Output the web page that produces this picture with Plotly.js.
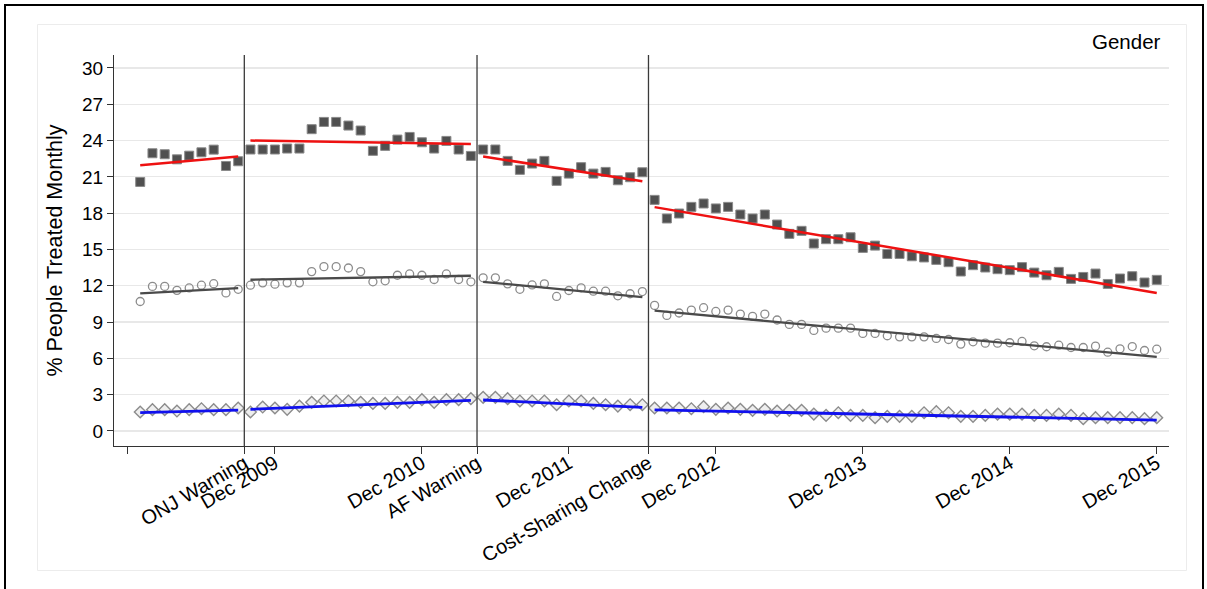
<!DOCTYPE html>
<html>
<head>
<meta charset="utf-8">
<script src="https://cdn.plot.ly/plotly-3.0.1.min.js"></script>
<style>
  html, body { margin: 0; padding: 0; background: #ffffff; overflow: hidden; }
  #wrap { position: relative; width: 1207px; height: 589px; }
  #chart { position: absolute; left: 0; top: 0; width: 1207px; height: 589px; }
  .edge { position: absolute; background: #000; }
</style>
</head>
<body>
<div id="wrap">
  <div id="chart"></div>
  <div class="edge" style="left:4px; top:4px; width:1200px; height:2px;"></div>
  <div class="edge" style="left:4px; top:4px; width:2px; height:590px;"></div>
  <div class="edge" style="left:1202px; top:4px; width:2px; height:590px;"></div>
</div>
<script>
// Monthly series, Jan 2009 (month 1) to Dec 2015 (month 84), split into four periods
const segStart = [1, 10, 29, 43];
const segEnd = [9, 28, 42, 84];

// Policy events (month positions between periods)
const eventPos = [9.5, 28.5, 42.5];
const eventLabels = ['ONJ Warning', 'AF Warning', 'Cost-Sharing Change'];

// Year-end ticks
const yearTickPos = [12, 24, 36, 48, 60, 72, 84];
const yearTickLabels = ['Dec 2009', 'Dec 2010', 'Dec 2011', 'Dec 2012', 'Dec 2013', 'Dec 2014', 'Dec 2015'];

const yTicks = [0, 3, 6, 9, 12, 15, 18, 21, 24, 27, 30];

// % treated monthly — square markers
const groupHigh = [
  20.58, 22.95, 22.87, 22.45, 22.75, 23.03, 23.25, 21.90, 22.29,
  23.26, 23.26, 23.26, 23.34, 23.34, 24.94, 25.54, 25.54, 25.24, 24.83, 23.15, 23.56, 24.08, 24.30, 23.86, 23.34, 23.97, 23.26, 22.73,
  23.26, 23.26, 22.32, 21.58, 22.10, 22.32, 20.67, 21.27, 21.80, 21.27, 21.41, 20.72, 20.97, 21.38,
  19.10, 17.56, 17.97, 18.52, 18.80, 18.39, 18.52, 17.89, 17.56, 17.89, 17.06, 16.29, 16.54, 15.49, 15.85, 15.85, 16.01, 15.13, 15.32, 14.63, 14.63, 14.44,
  14.34, 14.14, 13.95, 13.18, 13.70, 13.51, 13.37, 13.29, 13.54, 13.09, 12.87, 13.15, 12.57, 12.73, 13.01, 12.15, 12.60, 12.79, 12.27, 12.49
];

// % treated monthly — hollow circle markers
const groupMid = [
  10.70, 11.95, 11.95, 11.62, 11.82, 12.05, 12.17, 11.41, 11.71,
  12.05, 12.24, 12.13, 12.24, 12.24, 13.17, 13.58, 13.58, 13.47, 13.17, 12.33, 12.41, 12.87, 12.98, 12.87, 12.52, 12.98, 12.52, 12.33,
  12.66, 12.66, 12.16, 11.71, 12.07, 12.16, 11.12, 11.61, 11.83, 11.55, 11.55, 11.17, 11.34, 11.52,
  10.38, 9.55, 9.75, 9.99, 10.19, 9.88, 9.99, 9.66, 9.47, 9.66, 9.17, 8.81, 8.81, 8.31, 8.50, 8.50, 8.50, 8.06, 8.06, 7.87, 7.78, 7.78,
  7.78, 7.65, 7.56, 7.18, 7.37, 7.26, 7.26, 7.29, 7.40, 7.04, 6.96, 7.09, 6.90, 6.90, 7.01, 6.51, 6.79, 6.98, 6.65, 6.76
];

// % treated monthly — diamond markers
const groupLow = [
  1.57, 1.76, 1.76, 1.65, 1.76, 1.84, 1.76, 1.76, 1.90,
  1.57, 1.98, 1.90, 1.79, 2.06, 2.37, 2.48, 2.48, 2.48, 2.37, 2.28, 2.28, 2.37, 2.37, 2.59, 2.37, 2.59, 2.59, 2.67,
  2.78, 2.78, 2.67, 2.48, 2.48, 2.48, 2.17, 2.48, 2.48, 2.28, 2.17, 2.06, 2.17, 2.17,
  1.90, 1.90, 1.90, 1.84, 2.01, 1.79, 1.90, 1.79, 1.71, 1.79, 1.65, 1.71, 1.71, 1.40, 1.29, 1.51, 1.29, 1.29, 1.10, 1.21, 1.21,
  1.21, 1.51, 1.60, 1.51, 1.21, 1.21, 1.29, 1.40, 1.40, 1.40, 1.29, 1.29, 1.40, 1.29, 1.02, 1.10, 1.10, 1.10, 1.10, 1.02, 1.10
];

// Segmented linear trends: fitted value at the first and last month of each period
const highFitStart = [21.96, 24.00, 22.68, 18.50];
const highFitEnd   = [22.68, 23.72, 20.64, 11.41];
const midFitStart  = [11.37, 12.50, 12.33, 9.94];
const midFitEnd    = [11.81, 12.83, 11.06, 6.13];
const lowFitStart  = [1.51, 1.79, 2.56, 1.75];
const lowFitEnd    = [1.73, 2.53, 1.95, 0.90];

// month index for every observation
const months = [];
for (let s = 0; s < segStart.length; s++) {
  for (let m = segStart[s]; m <= segEnd[s]; m++) months.push(m);
}

function trendLine(starts, ends) {
  const x = [], y = [];
  for (let s = 0; s < segStart.length; s++) {
    x.push(segStart[s], segEnd[s], null);
    y.push(starts[s], ends[s], null);
  }
  return { x, y };
}

const FONT = '"Liberation Sans", Arial, Helvetica, sans-serif';

const hiLine = trendLine(highFitStart, highFitEnd);
const midLine = trendLine(midFitStart, midFitEnd);
const loLine = trendLine(lowFitStart, lowFitEnd);

const traces = [
  {
    x: months, y: groupHigh, type: 'scatter', mode: 'markers',
    marker: { symbol: 'square', size: 9, color: '#505050', line: { color: '#8a8a8a', width: 1 } },
    hoverinfo: 'skip'
  },
  {
    x: months, y: groupMid, type: 'scatter', mode: 'markers',
    marker: { symbol: 'circle-open', size: 8, color: '#8c8c8c', line: { color: '#8c8c8c', width: 1.3 } },
    hoverinfo: 'skip'
  },
  {
    x: months, y: groupLow, type: 'scatter', mode: 'markers',
    marker: { symbol: 'diamond', size: 9, color: '#eeeeee', line: { color: '#8c8c8c', width: 1.4 } },
    hoverinfo: 'skip'
  },
  {
    x: hiLine.x, y: hiLine.y, type: 'scatter', mode: 'lines',
    line: { color: '#ee1111', width: 2.5 }, connectgaps: false, hoverinfo: 'skip'
  },
  {
    x: midLine.x, y: midLine.y, type: 'scatter', mode: 'lines',
    line: { color: '#4a4a4a', width: 2.3 }, connectgaps: false, hoverinfo: 'skip'
  },
  {
    x: loLine.x, y: loLine.y, type: 'scatter', mode: 'lines',
    line: { color: '#1010ee', width: 2.8 }, connectgaps: false, hoverinfo: 'skip'
  }
];

// x ticks: a bare tick at Dec 2008, event labels and year-end labels, in position order
const xTickPairs = [[0, '']]
  .concat(eventPos.map((p, i) => [p, eventLabels[i]]))
  .concat(yearTickPos.map((p, i) => [p, yearTickLabels[i]]))
  .sort((a, b) => a[0] - b[0]);

// plot-area geometry in pixels, used for the frame drawn around the graph region
const W = 1207, H = 589;
const M = { l: 114, r: 38, t: 55, b: 143 };
const pw = W - M.l - M.r, ph = H - M.t - M.b;
const px = v => (v - M.l) / pw;
const py = v => (H - M.b - v) / ph;

const shapes = eventPos.map(p => ({
  type: 'line', xref: 'x', yref: 'paper', x0: p, x1: p, y0: 0, y1: 1,
  line: { color: '#3a3a3a', width: 1.3 }, layer: 'above'
}));
shapes.push({
  type: 'rect', xref: 'paper', yref: 'paper',
  x0: px(37.5), x1: px(1186.5), y0: py(570.5), y1: py(24.5),
  line: { color: '#ececec', width: 1 }, fillcolor: 'rgba(0,0,0,0)', layer: 'below'
});

const layout = {
  width: W, height: H,
  margin: M,
  paper_bgcolor: '#ffffff',
  plot_bgcolor: '#ffffff',
  showlegend: false,
  font: { family: FONT, color: '#000000', size: 19 },
  xaxis: {
    range: [-1.14, 85.0],
    tickmode: 'array',
    tickvals: xTickPairs.map(d => d[0]),
    ticktext: xTickPairs.map(d => d[1]),
    tickangle: -30,
    ticks: 'outside', ticklen: 7, tickwidth: 1, tickcolor: '#333333',
    ticklabelstandoff: -10,
    tickfont: { family: FONT, size: 20, color: '#000000' },
    showline: true, linecolor: '#333333', linewidth: 1,
    showgrid: false, zeroline: false, automargin: false
  },
  yaxis: {
    range: [-1.24, 31.07],
    tickmode: 'array',
    tickvals: yTicks,
    ticktext: yTicks.map(String),
    ticks: 'outside', ticklen: 6, tickwidth: 1, tickcolor: '#333333',
    tickfont: { family: FONT, size: 19, color: '#000000' },
    showline: true, linecolor: '#333333', linewidth: 1,
    showgrid: true, gridcolor: '#e8e8e8', gridwidth: 1.2,
    zeroline: false, automargin: false,
    title: { text: '% People Treated Monthly', font: { family: FONT, size: 21.5, color: '#000000' }, standoff: 13 }
  },
  shapes: shapes,
  annotations: [{
    text: 'Gender', xref: 'paper', yref: 'paper',
    x: px(1163), y: py(41), xanchor: 'right', yanchor: 'middle',
    showarrow: false, font: { family: FONT, size: 20.5, color: '#000000' }
  }]
};

Plotly.newPlot('chart', traces, layout, { displayModeBar: false, staticPlot: true });
</script>
</body>
</html>
